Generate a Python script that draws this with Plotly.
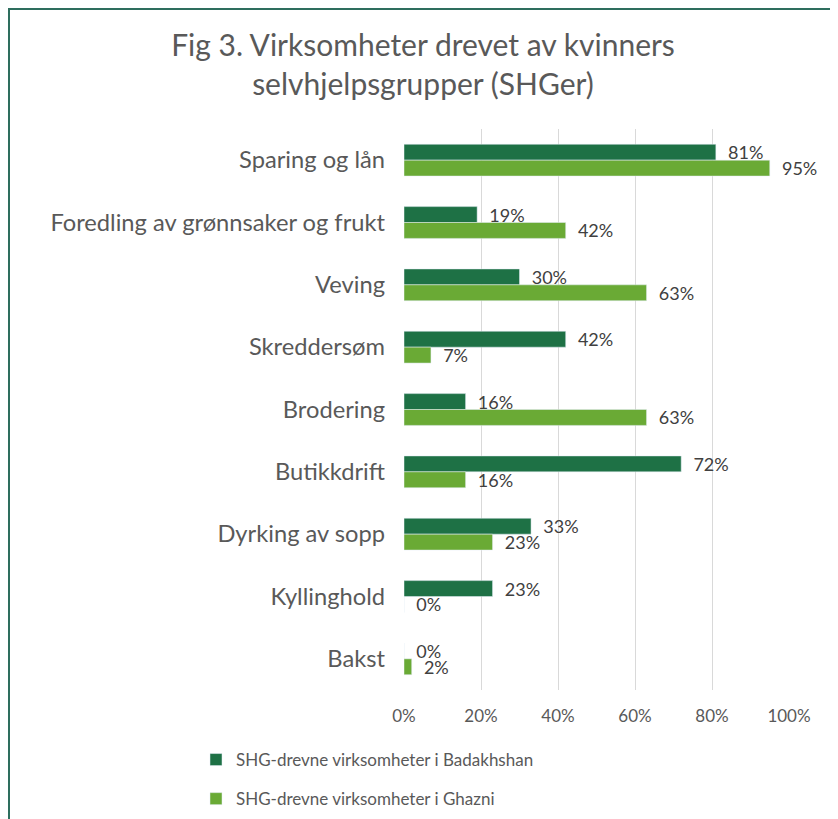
import plotly.graph_objects as go

categories = ["Sparing og lån", "Foredling av grønnsaker og frukt", "Veving", "Skreddersøm",
              "Brodering", "Butikkdrift", "Dyrking av sopp", "Kyllinghold", "Bakst"]
badakhshan = [81, 19, 30, 42, 16, 72, 33, 23, 0]
ghazni = [95, 42, 63, 7, 63, 16, 23, 0, 2]
series_names = ["SHG-drevne virksomheter i Badakhshan", "SHG-drevne virksomheter i Ghazni"]
x_ticks = [0, 20, 40, 60, 80, 100]
x_ticktext = ["0%", "20%", "40%", "60%", "80%", "100%"]

FONT = "Lato"
GRAY = "#595959"

fig = go.Figure()
for i, (name, vals, col) in enumerate([(series_names[0], badakhshan, "#1E7145"),
                                        (series_names[1], ghazni, "#6AAA35")]):
    fig.add_trace(go.Bar(
        y=categories, x=vals, orientation="h", name=name,
        legendgroup=f"g{i}",
        marker=dict(color=col),
        text=[f"{v}%" for v in vals], textposition="outside",
        texttemplate="  %{text}", constraintext="none",
        textfont=dict(family=FONT, size=18, color="#404040"),
        cliponaxis=False,
    ))

# page has 8px body offset; work in screenshot pixel coords, convert
OFF = 8
W, H = 838, 819
L = 404 - OFF
R = W - (789 - OFF)
T = 129 - OFF
B = H - (690 - OFF)
pw, ph = W - L - R, H - T - B

def px2paper_x(px):
    return (px - OFF - L) / pw

def px2paper_y(py):
    return 1 - (py - OFF - T) / ph

fig.update_layout(
    width=W, height=H,
    margin=dict(l=L, r=R, t=T, b=B, autoexpand=False),
    paper_bgcolor="white", plot_bgcolor="white",
    barmode="group", bargap=0.49, bargroupgap=0,
    font=dict(family=FONT, color=GRAY),
    title=dict(text="Fig 3. Virksomheter drevet av kvinners<br>selvhjelpsgrupper (SHGer)",
               x=(423 - OFF) / W, xanchor="center", y=1 - 48 / H, yanchor="top",
               font=dict(family=FONT, size=30, color=GRAY)),
    xaxis=dict(range=[0, 100], tickvals=x_ticks, ticktext=x_ticktext,
               showgrid=True, gridcolor="#D9D9D9", gridwidth=1,
               zeroline=False, showline=False, automargin=False,
               tickfont=dict(family=FONT, size=17, color=GRAY), ticklen=0,
               ticklabelstandoff=14),
    yaxis=dict(autorange="reversed", showgrid=False, zeroline=False, showline=False,
               automargin=False,
               tickfont=dict(family=FONT, size=23.7, color=GRAY), ticks="", ticklabelstandoff=18),
    legend=dict(orientation="v", x=px2paper_x(196), xanchor="left",
                y=px2paper_y(742), yanchor="top",
                font=dict(family=FONT, size=17, color=GRAY),
                tracegroupgap=14, itemwidth=30),
    showlegend=True,
    shapes=[dict(type="rect", xref="paper", yref="paper",
                 x0=px2paper_x(9), x1=px2paper_x(832),
                 y0=px2paper_y(840), y1=px2paper_y(9),
                 line=dict(color="#2E6E5E", width=2), layer="below")],
)

fig.write_html("out.html")
